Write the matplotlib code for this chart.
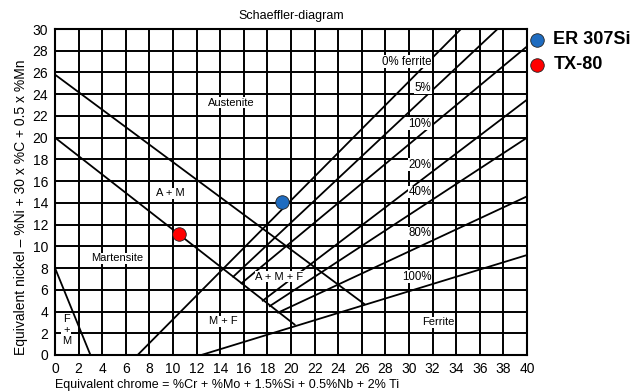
import matplotlib.pyplot as plt

plt.rcParams['font.family'] = ['Liberation Sans', 'DejaVu Sans']

# boundary lines of the diagram (Cr-eq, Ni-eq end points)
aust_x = [0, 26.2]
aust_y = [25.8, 4.7]
mart_x = [0, 20.3]
mart_y = [20, 2.8]
fm_x = [0, 3]
fm_y = [8, 0]

# iso-ferrite lines
ferrite_labels = ['0% ferrite', '5%', '10%', '20%', '40%', '80%', '100%']
ferrite_x0 = [7.0, 15.1, 15.8, 17.6, 18.2, 18.9, 12.4]
ferrite_y0 = [0.0, 7.2, 6.6, 5.0, 4.5, 3.9, 0.0]
ferrite_x1 = [34.4, 37.5, 40, 40, 40, 40, 40]
ferrite_y1 = [30, 30, 28.4, 23.5, 20.0, 14.6, 9.2]
ferrite_label_y = [27.0, 24.6, 21.3, 17.5, 15.0, 11.2, 7.2]

# welding consumables
samples = ['ER 307Si', 'TX-80']
cr_eq = [19.2, 10.5]
ni_eq = [14.1, 11.1]
colors = ['#1f6cc0', '#ff0000']

fig = plt.figure(figsize=(6.34, 3.91), dpi=100)
ax = fig.add_axes([0.0868, 0.0921, 0.7445, 0.8337])

ax.set_xlim(0, 40)
ax.set_ylim(0, 30)
ax.set_xticks(range(0, 41, 2))
ax.set_yticks(range(0, 31, 2))
ax.grid(True, color='black', linewidth=1.4)
ax.set_axisbelow(True)
ax.tick_params(length=0, labelsize=10, pad=5)
for s in ax.spines.values():
    s.set_linewidth(1.5)

lw = 1.3
ax.plot(aust_x, aust_y, color='black', lw=lw)
ax.plot(mart_x, mart_y, color='black', lw=lw)
ax.plot(fm_x, fm_y, color='black', lw=lw)
for i in range(len(ferrite_labels)):
    ax.plot([ferrite_x0[i], ferrite_x1[i]], [ferrite_y0[i], ferrite_y1[i]],
            color='black', lw=lw)
    ax.text(31.9, ferrite_label_y[i], ferrite_labels[i], ha='right', va='center',
            fontsize=8.3, bbox=dict(facecolor='white', edgecolor='none', pad=0.3))

# region names
region_kw = dict(ha='center', va='center', fontsize=8,
                 bbox=dict(facecolor='white', edgecolor='none', pad=0.3))
ax.text(14.9, 23.2, 'Austenite', **region_kw)
ax.text(9.75, 14.9, 'A + M', **region_kw)
ax.text(5.3, 8.9, 'Martensite', **region_kw)
ax.text(19.0, 7.2, 'A + M + F', **region_kw)
ax.text(14.3, 3.1, 'M + F', **region_kw)
ax.text(32.5, 3.0, 'Ferrite', **region_kw)
ax.text(0.95, 2.3, 'F\n+\nM', linespacing=1.1, **region_kw)

for i in range(len(samples)):
    ax.scatter(cr_eq[i], ni_eq[i], s=95, color=colors[i], edgecolors='#222222',
               linewidths=0.6, zorder=5, label=samples[i])

ax.set_title('Schaeffler-diagram', fontsize=9, pad=7)
ax.set_xlabel('Equivalent chrome = %Cr + %Mo + 1.5%Si + 0.5%Nb + 2% Ti',
              fontsize=9, loc='left', labelpad=2)
ax.set_ylabel('Equivalent nickel \u2013 %Ni + 30 x %C + 0.5 x %Mn',
              fontsize=10, loc='bottom', labelpad=3)

fig.legend(loc='upper left', bbox_to_anchor=(0.836, 0.92), frameon=False,
           prop={'weight': 'bold', 'size': 13}, handlelength=0.8,
           handletextpad=0.5, borderpad=0, borderaxespad=0, labelspacing=0.45)

fig.savefig('out.png', dpi=100)
